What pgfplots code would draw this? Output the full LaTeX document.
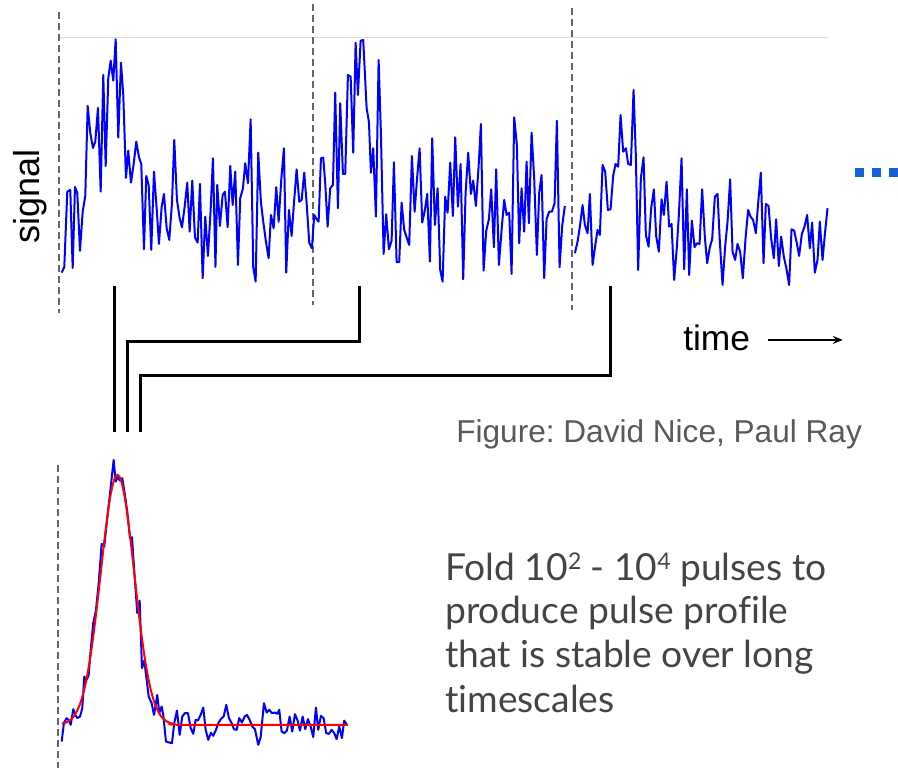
\documentclass[border=0pt]{standalone}
\usepackage{pgfplots}
\pgfplotsset{compat=1.18}
\usepackage{fontspec}
\setmainfont{Liberation Sans}
\newfontfamily\latofont[Ligatures=NoCommon]{Lato}
\usetikzlibrary{arrows.meta}
\definecolor{dashgrey}{HTML}{666666}
\definecolor{rulegrey}{HTML}{DCDCDC}
\definecolor{creditgrey}{HTML}{595959}
\definecolor{bodygrey}{HTML}{444444}
\definecolor{dotblue}{RGB}{22,96,214}
\newcommand{\sups}[1]{\raisebox{0.62ex}{\fontsize{11.5}{12}\selectfont #1}}
\frenchspacing
\begin{document}
\begin{tikzpicture}
\begin{axis}[
  x=0.5pt, y=0.5pt, y dir=reverse,
  xmin=0, xmax=898, ymin=0, ymax=768,
  hide axis, clip=false, enlargelimits=false,
]
\path (axis cs:0,0) rectangle (axis cs:898,768);

% faint reference line at the signal maximum
\addplot[rulegrey, line width=0.5pt] coordinates {(60,37.7) (828,37.7)};

% period boundaries
\addplot[dashgrey, line width=1pt, dash pattern=on 3.5pt off 2pt] coordinates {(59.5,12) (59.5,313)};
\addplot[dashgrey, line width=1pt, dash pattern=on 3.5pt off 2pt] coordinates {(313.3,4) (313.3,305)};
\addplot[dashgrey, line width=1pt, dash pattern=on 3.5pt off 2pt] coordinates {(572.3,8) (572.3,310)};
\addplot[dashgrey, line width=1pt, dash pattern=on 3.5pt off 2pt] coordinates {(58.5,465) (58.5,768)};

% raw time series: first two periods
\addplot[blue, line width=1pt, line join=round] coordinates {
(61.7,272.7) (64.3,267) (67.3,191.7) (70.3,190) (72.7,268) (75,187) (77.3,193) (80,251)
(82.7,211.7) (85.3,196) (87.7,106) (90.3,133) (93,148) (95.3,141.7) (98,108) (100.7,191.7)
(103.3,75) (105.7,166) (108.3,78.3) (110.7,60.7) (113.3,80.7) (115.7,39.3) (118.3,137.7)
(121,62.7) (123.3,95) (126,178) (128.3,150.7) (131,182.7) (133.7,164) (136.3,141.7)
(139,157.3) (141.3,164) (144,249.3) (146.3,176) (148.7,185) (151.3,250) (154,171.7)
(156.7,208.3) (159,244) (161.7,206.7) (164,194) (166.7,228.3) (169.3,240) (172,203.3)
(174.3,140) (177,200) (179.7,218.3) (182,227.3) (184.7,206.7) (187.3,182.7) (189.7,231.7)
(192.3,180.7) (195,237.3) (197.7,242.7) (200,184) (202.7,278.3) (205.3,216.7) (208,256)
(210.7,210) (213,158.3) (215.5,267) (217.3,185) (220,226) (222.7,195) (225,191.7)
(227.7,227.3) (230.3,166) (232.7,205) (235.3,171.7) (238,265) (240.3,198.3) (243,188.3)
(245.3,163.3) (248,183.3) (250.7,119.3) (253.3,267.3) (255.7,281.7) (258.3,152.7)
(261,202.7) (263.3,221.7) (266,241.7) (268.7,258.3) (271,215) (273.7,228.3) (276.3,187.3)
(278.7,221.7) (281.3,180) (284,148.3) (286.3,272.7) (289,210) (291.7,236) (294,203.3)
(296.7,169.3) (299.3,201.7) (301.7,200) (304.3,172.7) (306.7,203.3) (309.3,242.7)
(312,248.3) (314.3,215) (316.7,219.3) (318.7,221.7) (321,158.3) (323.3,157.7)
(325.3,183.3) (327.7,226.7) (330.3,188.3) (333,185) (335.3,92.7) (338,208.3)
(340.3,103.3) (343,174) (345.3,174) (348,75) (350.7,76.7) (353.3,152.7) (355.7,42.7)
(358,95) (360.7,40.7) (363.3,40) (366.7,108.3) (369,121.7) (371,172.7) (373.3,148.3)
(376,216.7) (378.7,60) (381,133.3) (383.7,254) (386.3,214.3) (389,249.3) (391.7,240.7)
(394,162.3) (396.7,262.3) (399.3,262.3) (401.7,202.7) (404.3,230) (407,238.3) (409.3,245)
(412,156) (414.7,211.7) (417.3,176.7) (419.7,148.3) (422.3,222.7) (425,210) (427.3,194)
(430,261.7) (432.3,138.3) (435,225) (437.7,188.3) (440.3,270) (442.7,281.7) (445.3,196.7)
(447.7,212.7) (450.3,162.7) (453,216) (455.3,137.3) (458,206.7) (460.7,164) (463.3,279.3)
(465.7,192.7) (468.3,152.7) (471,194) (473.3,180.7) (476,206) (478.7,166.7) (481,124)
(483.7,270.7) (486.3,231) (489,219.3) (491.3,189.3) (494,247.3) (496.3,169.3) (499,265)
(501.7,230) (504.3,200) (506.7,215) (509.3,212.7) (511.7,274) (514.3,117.3) (517,145)
(519.3,243.3) (521.7,188.3) (524.3,231.7) (526.7,161.7) (529,223.3) (531.7,132.7)
(534.3,178.3) (537,255) (539.3,192.7) (541.7,175) (544.3,278.3) (546.7,219.3)
(549.3,211.7) (552,211.7) (554.7,203.3) (557,120.7) (559.7,267.3) (562.3,226) (565,206)
};
% raw time series: third period
\addplot[blue, line width=1pt, line join=round] coordinates {
(575,253.3) (577.7,241.7) (580,226.7) (582.7,205) (585,225) (587.7,233.3) (590,194)
(592.7,265) (595.3,246) (597.7,230) (600,235) (602.7,165) (605.3,171.7) (608,210)
(610.7,209.3) (613.3,176) (615.7,164) (618.3,166.7) (620.7,115) (623.3,151.7) (626,148.3)
(628.3,164) (631,165) (633.7,90) (636,156.7) (638.3,270) (641,178.3) (643.7,157.3)
(646,235) (648.7,246.7) (651.3,208.3) (654,189.3) (656.3,236) (659,251.7) (661.7,199.3)
(664,215) (666.7,181.7) (669.3,226.7) (671.7,224) (674.3,280) (677,247.3) (679,215)
(681.7,158.3) (684.3,269.3) (687,189.3) (689.3,275) (692,220.7) (694.7,247.3) (697,243.3)
(699.7,244) (702.3,189.3) (705,237.3) (707.3,263.3) (710,247.3) (712.3,239.3) (715,196.7)
(717.7,194) (720,241.7) (722.7,285) (725.3,246.7) (727.7,221.7) (730.3,179.3)
(732.7,251.7) (735.3,260) (737.7,244) (740.3,251.7) (743,278.3) (745.7,238.3) (748.3,210)
(750.7,216.7) (753.3,220) (756,233.3) (758.3,203.3) (761,172.7) (763.7,263.3) (766,204)
(768.7,206) (771.3,238.3) (774,258.3) (776.3,219.3) (779,266) (781.3,236.7) (784,256.7)
(786.7,269.3) (789.3,285) (791.7,229.3) (794.3,230.7) (797,243.3) (799.3,256) (802,234)
(804.7,226.7) (807.3,215) (810,248.3) (812.3,222.7) (815,272.7) (817.7,260) (820,221.7)
(822.7,260) (825.3,231.7) (827.7,208.3)
};

% continuation marks
\addplot[only marks, mark=square*, mark size=2.1pt, draw=dotblue, fill=dotblue]
  coordinates {(859.7,172.5) (876.7,172.5) (894,172.5)};

% brackets carrying each pulse down to the folded profile
\addplot[black, line width=1.5pt] coordinates {(115,286) (115,432)};
\addplot[black, line width=1.5pt, line join=miter] coordinates {(360,286) (360,342) (128,342) (128,432)};
\addplot[black, line width=1.5pt, line join=miter] coordinates {(611,286) (611,376) (141,376) (141,432)};

% folded profile
\addplot[blue, line width=1pt, line join=round] coordinates {
(61.7,741.7) (64,722.7) (66.7,718.3) (69,720.7) (70.7,725) (73.3,709.3) (75.3,715)
(77.3,718.3) (80,716.7) (82.3,708.3) (84.3,676.7) (86.7,680) (88.7,675) (90.7,650)
(93.3,623.3) (96,610) (98.7,583.3) (101.7,544) (104.3,546.7) (106.7,523.3) (109.3,500)
(111.7,478.3) (113.7,460) (115.7,481.7) (117.7,477.3) (120,480.7) (122.3,478.3)
(124.7,493.3) (127.3,511.7) (130,538.3) (132,537.3) (134.7,576.7) (137.3,613.3)
(139.7,600.7) (142,668.3) (144.3,660.7) (146.7,680) (148.7,696.7) (151.7,703.3) (154,715)
(156,703.3) (157.3,695) (159.3,713.3) (161.7,706.7) (163.3,715) (166,741.7) (169.3,742.7)
(172,743.3) (174.3,723.3) (177,710.7) (179.7,735) (182.3,716.7) (185,713.3) (188,713.3)
(190.7,728.3) (193.3,734) (195.7,720) (198,720.7) (200.7,715) (203.3,707.7) (205.7,730)
(208.3,740) (211,732.7) (213.3,736) (216,730) (218.7,722.7) (221.3,718.7) (223.7,716.7)
(226.3,705) (229,718.3) (231.7,723.3) (234,729.3) (236.7,730) (239.3,718.3) (242,722.7)
(244.7,716.7) (247,715) (249.7,720) (252.3,726.7) (255,729.3) (258.3,745) (260.7,737.3)
(264,703.3) (266.7,712.7) (269.3,710) (272,713.3) (274.7,712.7) (277.3,714) (279.3,710)
(281.7,731.7) (284.3,733.3) (287,730.7) (289.7,716.7) (292.3,731.7) (295,714.3)
(297.7,720.7) (300,730.7) (302.7,716.7) (305.3,729.3) (308,719.3) (310.7,726.7)
(313.3,737.3) (316,707.7) (318.3,730) (321,716) (323.7,718.3) (326.3,733.3) (329,734)
(331.7,730) (334.3,733.3) (336.7,739.3) (339.3,726.7) (342,738.3) (344.3,720.7)
(346.7,724.3)
};
% fitted template
\addplot[red, line width=1pt, smooth] coordinates {
(62,723.9) (68,721.7) (74,716.3) (80,704.3) (85,686.5) (90,659.5) (95,623) (100,579.7)
(105,535.4) (110,498.7) (114,480.4) (117.5,475) (121,480.4) (125,498.7) (130,535.4)
(135,579.7) (140,623) (145,659.5) (150,686.5) (155,704.3) (161,716.3) (167,721.7)
(173,723.9) (185,725) (348,725)
};

% labels
\node[rotate=90, anchor=base, font=\fontsize{18}{20}\selectfont] at (axis cs:40,197) {signal};
\node[anchor=base west, inner sep=0pt, font=\fontsize{17.7}{20}\selectfont] at (axis cs:683,351) {time};
\draw[line width=0.75pt, -{Stealth[length=5pt, width=4pt]}] (axis cs:768,340) -- (axis cs:843,340);
\node[anchor=base west, inner sep=0pt, text=creditgrey, font=\fontsize{15.8}{18}\selectfont]
  at (axis cs:456,443) {Figure: David Nice, Paul Ray};
\begin{scope}[every node/.style={anchor=base west, inner sep=0pt, text=bodygrey,
    font=\latofont\fontsize{18.6}{22}\selectfont}]
\node at (axis cs:445,581) {Fold 10\sups{2} - 10\sups{4} pulses to};
\node at (axis cs:445,624) {produce pulse profile};
\node at (axis cs:445,668) {that is stable over long};
\node at (axis cs:445,713) {timescales};
\end{scope}
\end{axis}
\end{tikzpicture}
\end{document}
